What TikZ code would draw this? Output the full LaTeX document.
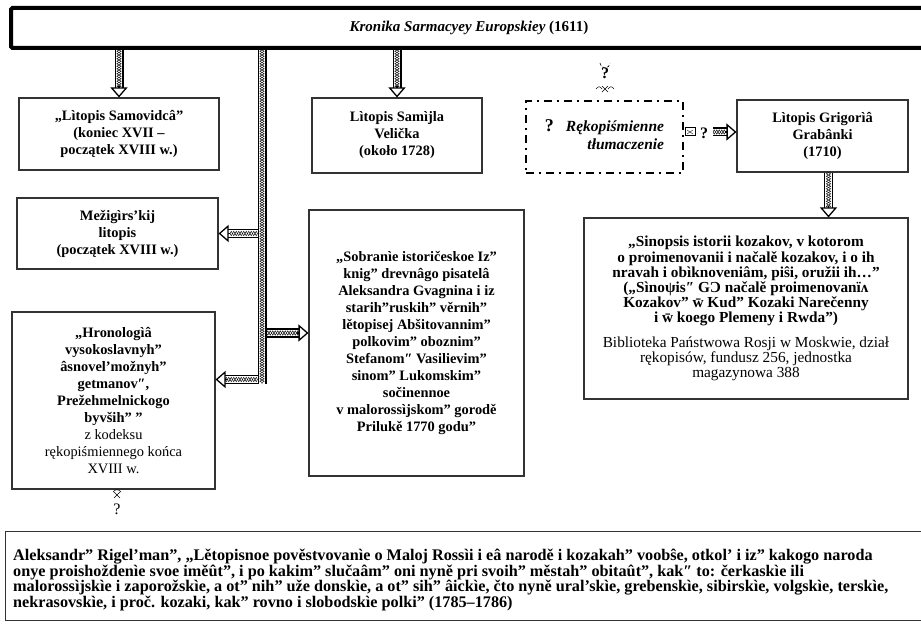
\documentclass[tikz,border=0pt]{standalone}
\usepackage{fontspec}
\setmainfont{Liberation Serif}
\usetikzlibrary{arrows.meta,calc,decorations.pathmorphing}

\tikzset{
    box/.style={draw=black!80, line width=1.1pt, align=center, inner sep=2pt, font=\fontsize{14.4}{17}\selectfont\bfseries},
    titlebox/.style={draw, line width=4pt, rounded corners=1.5pt, font=\fontsize{15}{17}\selectfont\bfseries},
    shaftout/.style={line width=9pt, black},
    shaftin/.style={line width=6.4pt, white},
    hatchzig/.style={line width=0.45pt, decorate, decoration={zigzag, segment length=5pt, amplitude=2.2pt}},
    hatchzag/.style={hatchzig, decoration={mirror}},
    tiphead/.style={line width=1.3pt, -{Triangle[length=10pt, width=17pt, fill=white]}},
}
\newcommand{\hatchbar}[2]{%
    \draw[shaftout]#1--#2;
    \draw[shaftin]#1--#2;
    \draw[hatchzig]#1--#2;
    \draw[hatchzag]#1--#2;}
\newcommand{\hatcharrow}[2]{%
    \hatchbar{#1}{($#2!9pt!#1$)}%
    \draw[tiphead]($#2!11pt!#1$)--#2;}

\begin{document}
\begin{tikzpicture}[x=1pt, y=-1pt]
    \useasboundingbox (0,0) rectangle (921,628);
    \node[titlebox, minimum width=916pt, minimum height=40pt](title) at (469,28){\textit{Kronika Sarmacyey Europskiey} (1611)};
    \node[box, minimum width=200pt, minimum height=72pt](samovid) at (119,134){„Lìtopis Samovidcâ”\\(koniec XVII –\\początek XVIII w.)};
    \node[box, minimum width=170pt, minimum height=75pt](samijla) at (397,135.5){Lìtopis Samìjla\\Velička\\(około 1728)};
    \node[box, minimum width=201pt, minimum height=71pt](megig) at (117.5,233.5){Mežigìrs’kij\\litopis\\(początek XVIII w.)};
    \node[box, minimum width=203pt, minimum height=177pt](hrono) at (113.5,400.5){„Hronologìâ\\vysokoslavnyh”\\âsnovel’možnyh”\\getmanov″,\\Prežehmelnickogo\\byvših” ”\\\mdseries z kodeksu\\\mdseries rękopiśmiennego końca\\\mdseries XVIII w.};
    \node[box, minimum width=215pt, minimum height=266pt](sobr) at (416.5,343){„Sobranìe istoričeskoe Iz”\\knig” drevnâgo pisatelâ\\Aleksandra Gvagnina i iz\\starih”ruskih” věrnih”\\lětopisej Abšitovannim”\\polkovim” oboznim”\\Stefanom″ Vasilievim”\\sinom” Lukomskim”\\sočinennoe\\v malorossìjskom” gorodě\\Prilukě 1770 godu”};
    \node[box, draw=black, line width=2pt, dash pattern=on 8pt off 5pt on 2pt off 5pt, minimum width=157pt, minimum height=72pt](rekop) at (604.5,137){{\fontsize{18}{18}\selectfont ?}\hspace{12pt}\begin{tabular}[t]{@{}r@{}}\fontsize{15.5}{17}\selectfont\itshape Rękopiśmienne\\[1pt]\fontsize{15.5}{17}\selectfont\itshape tłumaczenie\end{tabular}};
    \node[box, minimum width=171pt, minimum height=72pt](grab) at (822.5,136){Lìtopis Grigorìâ\\Grabânki\\(1710)};
    \node[box, font=\fontsize{15.3}{15.2}\selectfont\bfseries, minimum width=324pt, minimum height=181pt](sinop) at (746,308.5){„Sinopsis istorii kozakov, v kotorom\\o proimenovanii i načalě kozakov, i o ih\\nravah i obìknoveniâm, piŝi, oružii ih…”\\(„Sìnoψis″ GƆ načalě proimenovanïʌ\\Kozakov” w̄ Kud” Kozaki Narečenny\\i w̄ koego Plemeny i Rwda”)\\[9pt]\mdseries Biblioteka Państwowa Rosji w Moskwie, dział\\\mdseries rękopisów, fundusz 256, jednostka\\\mdseries magazynowa 388};
    \node[box, minimum width=920pt, minimum height=89pt, anchor=north west](rigel) at (5,531){};
    \node[anchor=north west, align=left, inner sep=0pt, font=\fontsize{16.2}{15.6}\selectfont\bfseries](rigeltext) at (13,549){Aleksandr” Rigel’man”, „Lětopisnoe pověstvovanìe o Maloj Rossìi i eâ narodě i kozakah” voobŝe, otkol’ i iz” kakogo naroda\\onye proishoždenìe svoe iměût”, i po kakim” slučaâm” oni nyně pri svoih” městah” obitaût”, kak″ to: čerkaskìe ili\\malorossìjskìe i zaporožskìe, a ot” nih” uže donskìe, a ot” sih” âickìe, čto nyně ural’skìe, grebenskìe, sibirskìe, volgskìe, terskìe,\\nekrasovskìe, i proč. kozaki, kak” rovno i slobodskìe polki” (1785–1786)};

    \coordinate(busend) at (262,384);
    \coordinate(bmeg) at (257.5,233.5);
    \coordinate(bsob) at (266.5,333);
    \coordinate(bhro) at (257.5,379.5);
    \coordinate(gs) at ([xshift=6pt]grab.south);
    \coordinate(qr) at (713,132);
    \hatcharrow{(title.south -| samovid.north)}{(samovid.north)}
    \hatcharrow{(title.south -| samijla.north)}{(samijla.north)}
    \hatchbar{(title.south -| busend)}{(busend)}
    \hatcharrow{(bmeg)}{(megig.east |- bmeg)}
    \hatcharrow{(bsob)}{(sobr.west |- bsob)}
    \hatcharrow{(bhro)}{(hrono.east |- bhro)}
    \hatcharrow{(gs)}{(gs |- sinop.north)}
    \hatcharrow{(qr)}{(grab.west |- qr)}

    \draw[line width=1pt](685,128)rectangle(695,136);
    \draw[line width=0.4pt](687,130)--(693,134)(687,134)--(693,130);
    \node[font=\fontsize{16}{16}\selectfont\bfseries](qright) at (704,133){?};
    \node[font=\fontsize{16}{16}\selectfont\bfseries](qtop) at (605,73){?};
    \draw[densely dashed, line width=0.6pt](600,63)arc[start angle=180, end angle=0, radius=5];
    \draw[line width=0.6pt](602,86)--(608,92)(602,92)--(608,86);
    \draw[line width=0.5pt](596,89)..controls(598,86)and(600,86)..(602,89)(608,89)..controls(610,86)and(612,86)..(614,89);
    \node[font=\fontsize{16}{16}\selectfont](qbot) at (117,509){?};
    \draw[line width=0.6pt](114,492)--(120,498)(114,498)--(120,492);
    \draw[line width=0.5pt](113,492)..controls(115,489)and(119,489)..(121,492);
\end{tikzpicture}
\end{document}
